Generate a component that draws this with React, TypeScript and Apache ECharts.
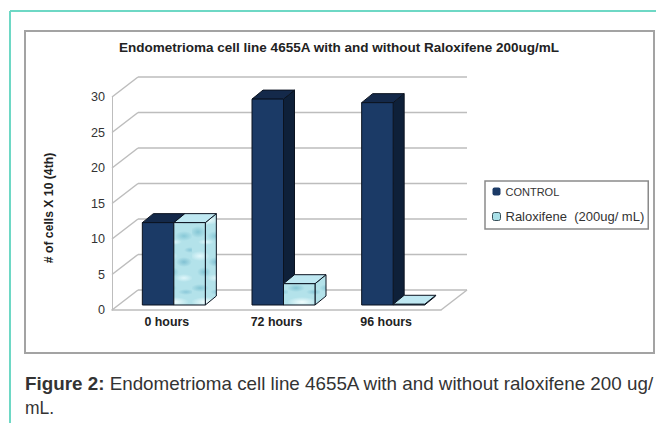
import React, { useEffect, useRef } from "react";
import * as echarts from "echarts";

const titleText = "Endometrioma cell line 4655A with and without Raloxifene 200ug/mL";
const yAxisTitle = "# of cells X 10 (4th)";
const categories = ["0 hours", "72 hours", "96 hours"];
const controlValues = [11.6, 29, 28.5];
const raloxifeneValues = [11.6, 3, 0.1];
const wallTicks = [0, 5, 10, 15, 20, 25, 30];
const seriesNames = ["CONTROL", "Raloxifene  (200ug/ mL)"];
const captionBold = "Figure 2:";
const captionLine1 = " Endometrioma cell line 4655A with and without raloxifene 200 ug/";
const captionLine2 = "mL.";

// Soft highlights of the water-like fill: x, y, rx, ry, colour
const blobs: [number, number, number, number, string][] = [
  [8, 10, 10, 5, "rgba(235,252,255,0.85)"],
  [24, 16, 8, 5, "rgba(95,170,195,0.6)"],
  [12, 26, 7, 5, "rgba(95,175,195,0.55)"],
  [24, 32, 9, 4, "rgba(235,252,255,0.8)"],
  [8, 42, 9, 4, "rgba(95,175,195,0.55)"],
  [26, 46, 8, 3, "rgba(100,175,200,0.5)"],
  [14, 56, 15, 5, "rgba(245,255,255,0.95)"],
  [6, 68, 8, 6, "rgba(95,175,195,0.55)"],
  [24, 72, 9, 5, "rgba(100,180,200,0.55)"],
  [14, 78, 8, 3, "rgba(235,252,255,0.8)"],
  [30, 4, 6, 3, "rgba(100,175,200,0.5)"],
];

function makeTexture() {
  const c = document.createElement("canvas");
  c.width = 32;
  c.height = 82;
  const g = c.getContext("2d")!;
  g.fillStyle = "#b3e2ea";
  g.fillRect(0, 0, 32, 82);
  for (const [x, y, rx, ry, col] of blobs) {
    g.save();
    g.translate(x, y);
    g.scale(1, ry / rx);
    const r = g.createRadialGradient(0, 0, 0, 0, 0, rx);
    r.addColorStop(0, col);
    r.addColorStop(1, col.replace(/[\d.]+\)$/, "0)"));
    g.fillStyle = r;
    g.beginPath();
    g.arc(0, 0, rx, 0, Math.PI * 2);
    g.fill();
    g.restore();
  }
  return c;
}

const BAR_W = 31.5;
const INSET: [number, number] = [7, -5];
const DEPTH: [number, number] = [11, -9];
const WALL: [number, number] = [26, -20];
const GRID_COL = "#bdbdbd";

function barItem(slot: number, colors: { front: any; side: any; top: string }) {
  return (_p: any, api: any) => {
    const base = api.coord([api.value(0), 0]);
    const topPt = api.coord([api.value(0), api.value(1)]);
    const x0 = base[0] + INSET[0] + slot * BAR_W;
    const x1 = x0 + BAR_W;
    const y0 = base[1] + INSET[1];
    const y1 = topPt[1] + INSET[1];
    const border = { stroke: "#0b1320", lineWidth: 1 };
    const [dx, dy] = DEPTH;
    return {
      type: "group",
      children: [
        { type: "polygon", shape: { points: [[x1, y0], [x1 + dx, y0 + dy], [x1 + dx, y1 + dy], [x1, y1]] }, style: { fill: colors.side, ...border } },
        { type: "polygon", shape: { points: [[x0, y1], [x1, y1], [x1 + dx, y1 + dy], [x0 + dx, y1 + dy]] }, style: { fill: colors.top, ...border } },
        { type: "rect", shape: { x: x0, y: y1, width: BAR_W, height: y0 - y1 }, style: { fill: colors.front, ...border } },
      ],
    };
  };
}

export default function App() {
  const ref = useRef<HTMLDivElement>(null);
  useEffect(() => {
    const chart = echarts.init(ref.current!, null, { renderer: "svg" });
    const texture = { image: makeTexture(), repeat: "repeat" };
    chart.setOption({
      animation: false,
      backgroundColor: "#ffffff",
      textStyle: { fontFamily: "Liberation Sans" },
      title: {
        text: titleText,
        left: 339,
        top: 40,
        padding: 0,
        textAlign: "center",
        textStyle: { fontSize: 13.5, fontWeight: "bold", color: "#222", fontFamily: "Liberation Sans" },
      },
      legend: {
        left: 485,
        top: 181,
        orient: "vertical",
        padding: [5, 4, 6, 7],
        itemWidth: 8,
        itemHeight: 8,
        itemGap: 13,
        borderColor: "#8a8a8a",
        borderWidth: 1.5,
        formatter: (name: string) => (name === seriesNames[0] ? `{a|${name}}` : `{b|${name}}`),
        textStyle: {
          padding: 0,
          rich: {
            a: { fontSize: 11, color: "#333", height: 15, fontFamily: "Liberation Sans" },
            b: { fontSize: 13, color: "#333", height: 15, fontFamily: "Liberation Sans" },
          },
        },
        data: [
          { name: seriesNames[0], icon: "roundRect", itemStyle: { color: "#1b3a66", borderColor: "#1b3a66" } },
          { name: seriesNames[1], icon: "roundRect", itemStyle: { color: "#a9e0e8", borderColor: "#37505a", borderWidth: 1 } },
        ],
      },
      grid: { left: 112, right: 215, top: 97, bottom: 113 },
      xAxis: {
        type: "category",
        data: categories,
        axisLine: { show: true, lineStyle: { color: GRID_COL, width: 1.5 } },
        axisTick: { show: false },
        axisLabel: { fontSize: 12.4, fontWeight: "bold", color: "#222", margin: 6 },
      },
      yAxis: {
        type: "value",
        min: 0,
        max: 30,
        interval: 5,
        splitLine: { show: false },
        axisLine: { show: true, lineStyle: { color: GRID_COL, width: 1 } },
        axisTick: { show: false },
        axisLabel: { fontSize: 12.6, color: "#333", margin: 7 },
      },
      series: [
        {
          type: "custom",
          name: "wall",
          silent: true,
          z: 1,
          data: wallTicks.map((t) => [0, t]),
          renderItem: (_p: any, api: any) => {
            const a = api.coord([0, api.value(1)]);
            const left = a[0] - api.size([1, 0])[0] / 2;
            const right = left + api.size([1, 0])[0] * categories.length;
            const ln = { stroke: GRID_COL, lineWidth: 1.5, fill: "none" };
            const children: any[] = [
              { type: "line", shape: { x1: left, y1: a[1], x2: left + WALL[0], y2: a[1] + WALL[1] }, style: ln },
              { type: "line", shape: { x1: left + WALL[0], y1: a[1] + WALL[1], x2: right + WALL[0], y2: a[1] + WALL[1] }, style: ln },
            ];
            if (api.value(1) === 0) {
              children.push({ type: "line", shape: { x1: right, y1: a[1], x2: right + WALL[0], y2: a[1] + WALL[1] }, style: ln });
            }
            return { type: "group", children };
          },
        },
        {
          type: "custom",
          name: seriesNames[0],
          z: 2,
          itemStyle: { color: "#1b3a66" },
          data: controlValues.map((v, i) => [i, v]),
          renderItem: barItem(-1, { front: "#1b3a66", side: "#0e2039", top: "#14294a" }),
        },
        {
          type: "custom",
          name: seriesNames[1],
          z: 3,
          itemStyle: { color: "#a9e0e8" },
          data: raloxifeneValues.map((v, i) => [i, v]),
          renderItem: barItem(0, { front: texture, side: texture, top: "#bfe8f2" }),
        },
      ],
      graphic: [
        { type: "line", silent: true, shape: { x1: 10, y1: 11, x2: 656, y2: 11 }, style: { stroke: "#6ed8c5", lineWidth: 2 } },
        { type: "line", silent: true, shape: { x1: 10, y1: 11, x2: 10, y2: 423 }, style: { stroke: "#6ed8c5", lineWidth: 2 } },
        { type: "rect", silent: true, z: -1, shape: { x: 25, y: 31, width: 629, height: 322 }, style: { fill: "none", stroke: "#a3a3a3", lineWidth: 2 } },
        {
          type: "text",
          silent: true,
          x: 49,
          y: 208,
          rotation: Math.PI / 2,
          style: { text: yAxisTitle, font: "bold 12.2px 'Liberation Sans'", fill: "#222", align: "center", verticalAlign: "middle" },
        },
        {
          type: "text",
          silent: true,
          x: 25,
          y: 384,
          scaleX: 1.075,
          style: {
            text: `{b|${captionBold}}{n|${captionLine1}}`,
            verticalAlign: "middle",
            rich: {
              b: { font: "bold 17.5px 'Liberation Sans'", fill: "#333" },
              n: { font: "17.5px 'Liberation Sans'", fill: "#333" },
            },
          },
        },
        {
          type: "text",
          silent: true,
          x: 25,
          y: 408,
          style: { text: captionLine2, font: "17.5px 'Liberation Sans'", fill: "#333", verticalAlign: "middle" },
        },
      ],
    });
    return () => chart.dispose();
  }, []);
  return <div ref={ref} style={{ position: "absolute", left: 0, top: 0, width: 656, height: 423 }} />;
}
